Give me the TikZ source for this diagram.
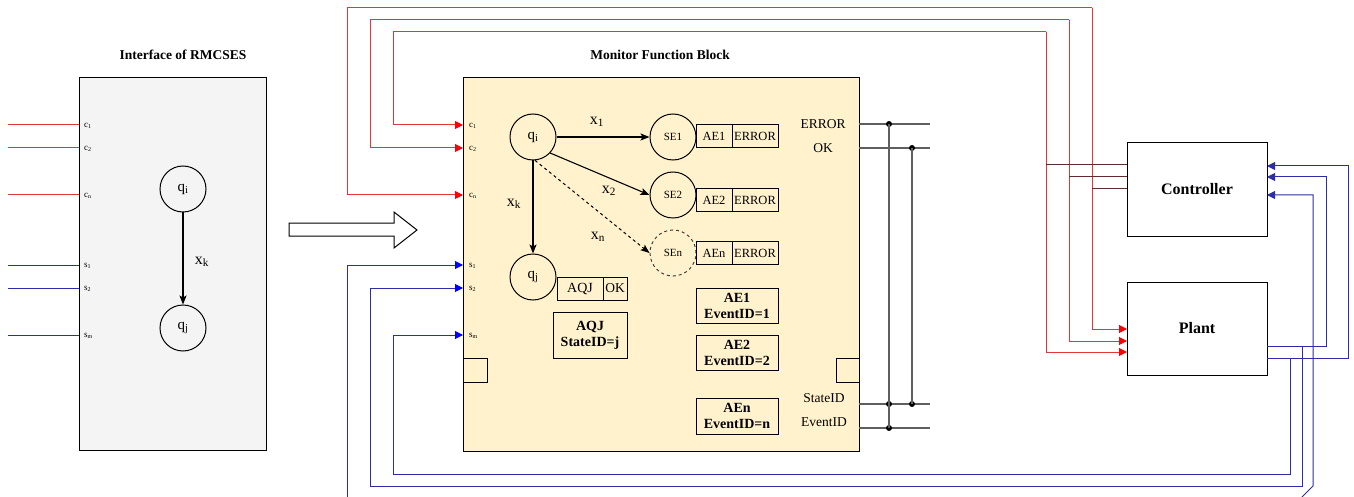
\documentclass[tikz,border=0pt]{standalone}
\usepackage{fontspec}
\setmainfont{Liberation Serif}
\usetikzlibrary{arrows.meta,calc}
\definecolor{rl}{RGB}{225,55,55}
\definecolor{bl}{RGB}{45,45,170}
\definecolor{dl}{RGB}{95,45,45}
\definecolor{gl}{RGB}{95,95,95}
\definecolor{yfill}{RGB}{255,242,204}
\definecolor{gfill}{RGB}{244,244,244}
\begin{document}
\begin{tikzpicture}[x=1pt,y=-1pt,
  box/.style={draw, line width=1pt, inner sep=0pt, outer sep=0pt},
  stnode/.style={draw, circle, line width=1pt, minimum size=46pt, inner sep=0pt},
  fa/.style={font=\fontsize{#1}{#1}\selectfont},
  fb/.style={font=\fontsize{#1}{16}\selectfont\bfseries},
  port/.style={font=\fontsize{9}{10}\selectfont, anchor=west, inner sep=0pt},
  lbl/.style={font=\fontsize{16}{18}\selectfont, inner sep=0pt},
  rw/.style={draw=rl, line width=1pt},
  bw/.style={draw=bl, line width=1pt},
  dw/.style={draw=dl, line width=1pt},
  gw/.style={draw=gl, line width=1.1pt},
  rarr/.style={rw, -{Triangle[length=8pt,width=8pt,color=red]}},
  barrm/.style={bw, -{Triangle[length=8pt,width=8pt,color=blue]}},
  barrc/.style={bw, -{Triangle[length=8pt,width=8pt,color=bl]}},
  arr/.style={draw, line width=1.1pt, -{Stealth[length=9pt,width=7pt,inset=2pt]}},
  dot/.style={circle, fill=black, inner sep=0pt, minimum size=6pt}
]
\useasboundingbox (0,0) rectangle (1354,497);
\clip (0,0) rectangle (1354,497);
\fill[white] (0,0) rectangle (1354,497);

% ---------------- Interface of RMCSES ----------------
\node[fb=13.5] (t1) at (183,55) {Interface of RMCSES};
\node[box, fill=gfill, minimum width=187pt, minimum height=372pt] (ifc) at (172.5,264) {};
\coordinate (lc1) at (8,125);
\coordinate (lc2) at (8,148);
\coordinate (lcn) at (8,195);
\coordinate (ls1) at (8,265);
\coordinate (ls2) at (8,288);
\coordinate (lsm) at (8,335);
\draw[rw] (lc1) -- (lc1 -| ifc.west);
\draw[rw] (lc2) -- (lc2 -| ifc.west);
\draw[rw] (lcn) -- (lcn -| ifc.west);
\draw[bw] (ls1) -- (ls1 -| ifc.west);
\draw[bw] (ls2) -- (ls2 -| ifc.west);
\draw[bw] (lsm) -- (lsm -| ifc.west);
\node[port] (plc1) at (84,126) {c\textsubscript{1}};
\node[port] (plc2) at (84,149) {c\textsubscript{2}};
\node[port] (plcn) at (84,196) {c\textsubscript{n}};
\node[port] (pls1) at (84,266) {s\textsubscript{1}};
\node[port] (pls2) at (84,289) {s\textsubscript{2}};
\node[port] (plsm) at (84,336) {s\textsubscript{m}};
\node[stnode, fa=15] (lqi) at (183,189) {q\textsubscript{i}};
\node[stnode, fa=15] (lqj) at (183,328) {q\textsubscript{j}};
\draw[arr] (lqi) -- (lqj);
\node[lbl] (lxk) at (202,262) {x\textsubscript{k}};

% ---------------- hollow arrow ----------------
\draw[line width=1pt, fill=white] (289,223) -- (394,223) -- (394,212) -- (417,230) -- (394,248) -- (394,236) -- (289,236) -- cycle;

% ---------------- Monitor Function Block ----------------
\node[fb=13.5] (t2) at (660,55) {Monitor Function Block};
\node[box, fill=yfill, minimum width=396pt, minimum height=373pt] (mon) at (661,264.5) {};
\node[port] (pc1) at (469,126) {c\textsubscript{1}};
\node[port] (pc2) at (469,149) {c\textsubscript{2}};
\node[port] (pcn) at (469,196) {c\textsubscript{n}};
\node[port] (ps1) at (469,266) {s\textsubscript{1}};
\node[port] (ps2) at (469,289) {s\textsubscript{2}};
\node[port] (psm) at (469,336) {s\textsubscript{m}};

\node[stnode, fa=15] (qi) at (533,137) {q\textsubscript{i}};
\node[stnode, fa=15] (qj) at (533,277) {q\textsubscript{j}};
\node[stnode, fa=11] (se1) at (673,137) {SE1};
\node[stnode, fa=11] (se2) at (673,195) {SE2};
\node[stnode, fa=11, dashed, draw=black!75] (sen) at (673,253) {SEn};

\node[box, fa=12.5, minimum width=36pt, minimum height=23pt] (ae1) at (714,136.5) {AE1};
\node[box, fa=12.5, minimum width=46pt, minimum height=23pt] (er1) at (755,136.5) {ERROR};
\node[box, fa=12.5, minimum width=36pt, minimum height=23pt] (ae2) at (714,200.5) {AE2};
\node[box, fa=12.5, minimum width=46pt, minimum height=23pt] (er2) at (755,200.5) {ERROR};
\node[box, fa=12.5, minimum width=36pt, minimum height=23pt] (aen) at (714,253) {AEn};
\node[box, fa=12.5, minimum width=46pt, minimum height=23pt] (ern) at (755,253) {ERROR};

\node[box, fa=14, minimum width=46pt, minimum height=23pt] (aqj) at (580,288.5) {AQJ};
\node[box, fa=13.5, minimum width=24pt, minimum height=23pt] (okb) at (615,288.5) {OK};
\node[box, fb=14, align=center, minimum width=74pt, minimum height=46pt] (aqjs) at (590,335) {AQJ\\StateID=j};
\node[box, fb=14, align=center, minimum width=82pt, minimum height=35pt] (ev1) at (737,305.5) {AE1\\EventID=1};
\node[box, fb=14, align=center, minimum width=82pt, minimum height=35pt] (ev2) at (737,352.5) {AE2\\EventID=2};
\node[box, fb=14, align=center, minimum width=82pt, minimum height=36pt] (evn) at (737,416) {AEn\\EventID=n};
\node[box, minimum width=24pt, minimum height=24pt] (sq1) at (475,370) {};
\node[box, minimum width=23pt, minimum height=24pt] (sq2) at (847.5,370) {};

\draw[arr] (qi) -- (se1);
\draw[arr] (qi.-43) -- (se2.west);
\draw[arr, dashed, line width=1pt] (qi.-85) -- (sen.west);
\draw[arr] (qi) -- (qj);
\node[lbl] (x1) at (597,122) {x\textsubscript{1}};
\node[lbl] (x2) at (609,191) {x\textsubscript{2}};
\node[lbl] (xk) at (514,204) {x\textsubscript{k}};
\node[lbl] (xn) at (598,237) {x\textsubscript{n}};

\node[fa=13.5] (terr) at (823,124) {ERROR};
\node[fa=13.5] (tok) at (823,148) {OK};
\node[fa=13.5] (tsid) at (824,398) {StateID};
\node[fa=13.5] (teid) at (824,422) {EventID};

% outputs
\coordinate (oE) at (930,124);
\coordinate (oO) at (930,148);
\coordinate (oS) at (930,404);
\coordinate (oV) at (930,428);
\draw[gw] (oE -| mon.east) -- (oE);
\draw[gw] (oO -| mon.east) -- (oO);
\draw[gw] (oS -| mon.east) -- (oS);
\draw[gw] (oV -| mon.east) -- (oV);
\node[dot] (d1) at (889,124) {};
\node[dot] (d2) at (912,148) {};
\node[dot] (d3) at (912,404) {};
\node[dot] (d4) at (889,404) {};
\node[dot] (d5) at (889,428) {};
\draw[gw] (d1.center) -- (d5.center);
\draw[gw] (d2.center) -- (d3.center);

% ---------------- Controller and Plant ----------------
\node[box, fb=16, minimum width=140pt, minimum height=93pt] (ctrl) at (1197,189.5) {Controller};
\node[box, fb=16, minimum width=140pt, minimum height=93pt] (plant) at (1197,328.5) {Plant};

% red control wires
\coordinate (ra) at (1046,32);
\coordinate (rb) at (1069,20);
\coordinate (rc) at (1092,8);
\draw[rarr] (ra) -- (393,32) -- (393,125) -- (mon.west |- 0,125);
\draw[rarr] (rb) -- (370,20) -- (370,148) -- (mon.west |- 0,148);
\draw[rarr] (rc) -- (347,8) -- (347,195) -- (mon.west |- 0,195);
\draw[rarr] (ra) -- (1046,352) -- (plant.west |- 0,352);
\draw[rarr] (rb) -- (1069,341) -- (plant.west |- 0,341);
\draw[rarr] (rc) -- (1092,329) -- (plant.west |- 0,329);
\draw[dw] (1046,165) -- (ctrl.west |- 0,165);
\draw[dw] (1069,177) -- (ctrl.west |- 0,177);
\draw[dw] (1092,189) -- (ctrl.west |- 0,189);

% blue sensor wires
\coordinate (bp1) at (plant.east |- 0,346);
\coordinate (bp2) at (plant.east |- 0,358);
\coordinate (bd) at (1296,503);
\draw[barrc] (bp2) -- (1348,358) -- (1348,166) -- (ctrl.east |- 0,166);
\draw[barrc] (bp1) -- (1326,346) -- (1326,177) -- (ctrl.east |- 0,177);
\draw[barrc] (bd) -- (1313,486) -- (1313,195) -- (ctrl.east |- 0,195);
\draw[barrm] (bd) -- (347,503) -- (347,265) -- (mon.west |- 0,265);
\draw[barrm] (1302,346) -- (1302,486) -- (370,486) -- (370,288) -- (mon.west |- 0,288);
\draw[barrm] (1290,358) -- (1290,474) -- (393,474) -- (393,335) -- (mon.west |- 0,335);
\end{tikzpicture}
\end{document}
